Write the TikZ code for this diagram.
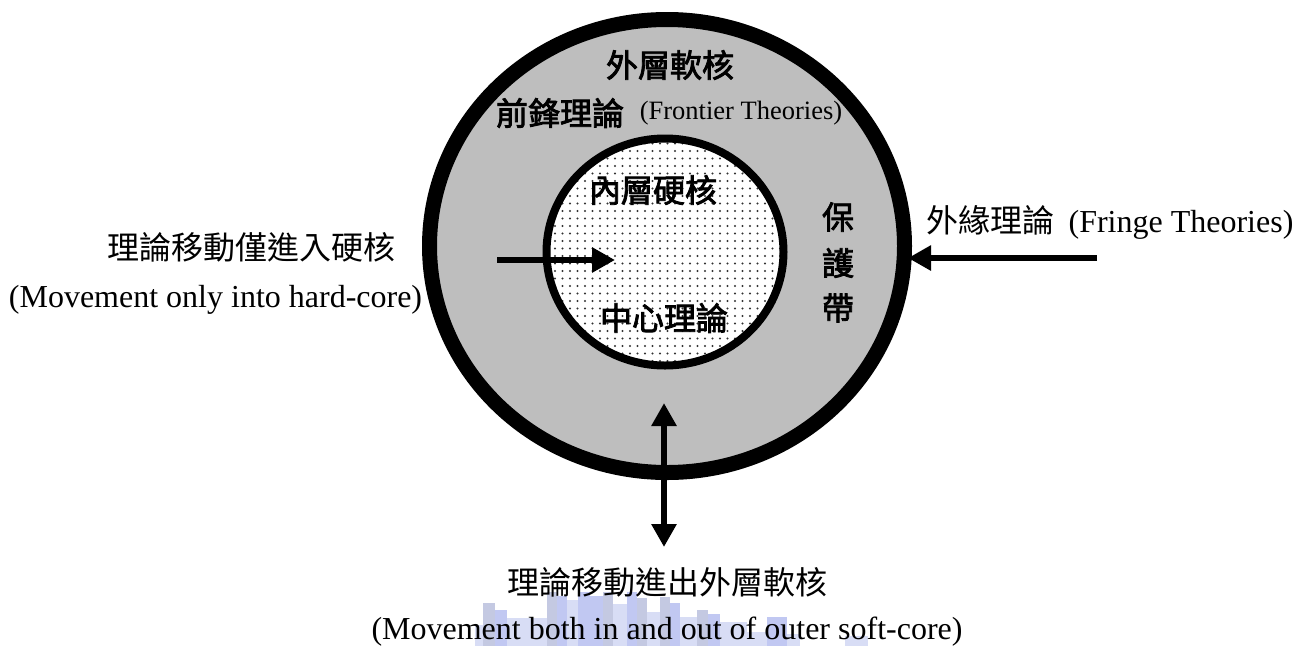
\documentclass[tikz,border=0pt]{standalone}
\usepackage{fontspec}
\setmainfont{Liberation Serif}
\newfontfamily\cjk[AutoFakeBold=2.5]{Noto Sans CJK TC}
\usetikzlibrary{arrows.meta,patterns.meta}

\definecolor{beltgray}{RGB}{190,190,190}
\definecolor{wmA}{RGB}{160,170,235}
\definecolor{wmB}{RGB}{195,203,240}
\definecolor{wmC}{RGB}{165,172,210}

\tikzset{
  cnlabel/.style={inner sep=0pt, font=\cjk\fontsize{32}{38}\selectfont},
  cnbold/.style={inner sep=0pt, font=\cjk\bfseries\fontsize{32}{38}\selectfont},
  enlabel/.style={inner sep=0pt, font=\fontsize{32}{38}\selectfont},
  ensmall/.style={inner sep=0pt, font=\fontsize{26.5}{32}\selectfont},
  belt/.style={line width=15pt, draw=black, fill=beltgray},
  coreline/.style={line width=8pt, draw=black},
  thickarrow/.style={line width=6.5pt, -{Triangle[length=23pt,width=24pt]}},
  twoway/.style={line width=6.5pt, {Triangle[length=23pt,width=24pt]}-{Triangle[length=23pt,width=24pt]}},
  wmblock/.style={opacity=0.65}
}

\begin{document}
\begin{tikzpicture}[x=1pt,y=-1pt]
\useasboundingbox (0,0) rectangle (1295,646);

% protective belt (outer soft core)
\draw[belt] (667,246) ellipse [x radius=237.5pt, y radius=226.5pt];

% inner hard core: white ground with a dot screen
\fill[white] (665,252) ellipse [x radius=118.5pt, y radius=113.5pt];
\fill[pattern={Dots[distance=7.5pt, radius=1.1pt]}, pattern color=black!80]
  (665,252) ellipse [x radius=118.5pt, y radius=113.5pt];
\draw[coreline] (665,252) ellipse [x radius=118.5pt, y radius=113.5pt];

% labels inside the rings
\node[cnbold] (outercore) at (670,65) {外層軟核};
\node[cnbold] (frontiercn) at (560,113) {前鋒理論};
\node[ensmall] (frontieren) at (741,113) {(Frontier Theories)};
\node[cnbold] (innercore) at (653,190) {內層硬核};
\node[cnbold] (central) at (664,318) {中心理論};
\node[cnbold] (belt1) at (838,217) {保};
\node[cnbold] (belt2) at (838,263) {護};
\node[cnbold] (belt3) at (838,308) {帶};

% left label and arrow into the hard core
\node[cnlabel] (leftcn) at (251.5,247) {理論移動僅進入硬核};
\node[enlabel] (leften) at (215.5,300) {(Movement only into hard-core)};
\coordinate (inStart) at (497,260);
\coordinate (inEnd) at (615,260);
\draw[thickarrow] (inStart) -- (inEnd);

% right label and arrow onto the belt
\node[enlabel] (fringe) at (1110,222) {{\cjk 外緣理論}\hspace{14pt}(Fringe Theories)};
\coordinate (fringeStart) at (1097,258);
\coordinate (fringeEnd) at (908,258);
\draw[thickarrow] (fringeStart) -- (fringeEnd);

% two-way arrow across the belt boundary
\coordinate (upTip) at (664,403);
\coordinate (downTip) at (664,547);
\draw[twoway] (downTip) -- (upTip);

% watermark blocks behind the bottom caption
\begin{scope}[wmblock]
\fill[wmB] (475,625) rectangle (483,646);
\fill[wmC] (483,603) rectangle (495,646);
\fill[wmA] (495,610) rectangle (507,646);
\fill[wmB] (507,618) rectangle (547,646);
\fill[wmC] (547,592) rectangle (557,646);
\fill[wmA] (557,596) rectangle (567,646);
\fill[wmB] (567,600) rectangle (578,646);
\fill[wmA] (578,592) rectangle (590,646);
\fill[wmA] (590,596) rectangle (603,646);
\fill[wmC] (603,592) rectangle (613,646);
\fill[wmB] (613,604) rectangle (627,646);
\fill[wmA] (627,592) rectangle (637,646);
\fill[wmC] (637,598) rectangle (647,646);
\fill[wmB] (647,612) rectangle (660,646);
\fill[wmC] (660,597) rectangle (670,646);
\fill[wmA] (670,603) rectangle (680,646);
\fill[wmB] (680,617) rectangle (697,646);
\fill[wmC] (697,610) rectangle (708,646);
\fill[wmA] (708,614) rectangle (720,646);
\fill[wmB] (720,622) rectangle (747,646);
\fill[wmB] (747,632) rectangle (767,646);
\fill[wmA] (767,617) rectangle (787,646);
\fill[wmB] (787,634) rectangle (800,646);
\fill[wmB] (845,636) rectangle (868,646);
\end{scope}

% bottom caption
\node[cnlabel] (bottomcn) at (667,582) {理論移動進出外層軟核};
\node[enlabel] (bottomen) at (667,632) {(Movement both in and out of outer soft-core)};
\end{tikzpicture}
\end{document}
